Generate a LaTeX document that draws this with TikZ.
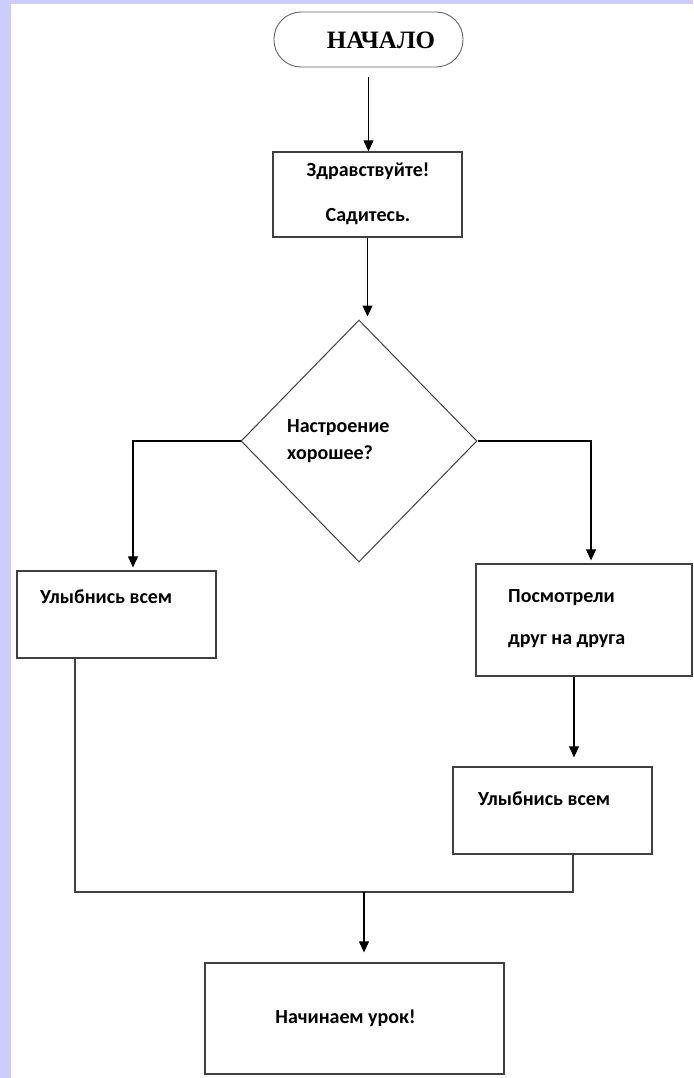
\documentclass[tikz,border=0pt]{standalone}
\usepackage{fontspec}
\newfontfamily\startfont{Liberation Serif}
\newfontfamily\boxfont{Carlito}
\usetikzlibrary{arrows.meta,shapes.geometric,calc}
\definecolor{lav}{HTML}{CCCCFF}
\definecolor{edge}{HTML}{404040}
\begin{document}
\begin{tikzpicture}[x=1pt,y=-1pt,>={Triangle[width=10pt,length=11pt]},font=\boxfont\bfseries\fontsize{20}{24}\selectfont,
		blk/.style={draw=edge,line width=1.3pt,inner sep=0pt},
		term/.style={draw=edge!80,line width=0.9pt,minimum width=189pt,minimum height=55pt,rounded corners=27pt,inner sep=0pt},
		dia/.style={draw=edge,line width=1pt,diamond,minimum width=236pt,minimum height=242pt,inner sep=0pt},
		txt/.style={inner sep=0pt,anchor=base west},
		arr/.style={->,line width=1.1pt,black},
		wire/.style={line width=1.3pt,edge}]
			\useasboundingbox (0,0) rectangle (693,1078);
			\fill[white](0,0) rectangle (693,1078);
			\fill[lav](0,0) rectangle (11,1078);
			\fill[lav](0,0) rectangle (693,4);
			\node[term] (start) at (368.5,39.5) {};
			\node[inner sep=0pt,font=\startfont\bfseries\fontsize{25}{28}\selectfont] (starttxt) at (381,40) {НАЧАЛО};
			\node[blk,minimum width=189pt,minimum height=85pt] (hello) at (367.5,194.5) {};
			\node[inner sep=0pt,anchor=base] (hello1) at (368,177) {Здравствуйте!};
			\node[inner sep=0pt,anchor=base] (hello2) at (368,222) {Садитесь.};
			\node[dia] (mood) at (359,441) {};
			\node[txt] (mood1) at (287,432) {Настроение};
			\node[txt] (mood2) at (287,459) {хорошее?};
			\node[blk,minimum width=199pt,minimum height=87pt] (smileL) at (116.5,614.5) {};
			\node[txt] (smileLtxt) at (40,603) {Улыбнись всем};
			\node[blk,minimum width=216pt,minimum height=112pt] (look) at (584,620) {};
			\node[txt] (look1) at (508,602) {Посмотрели};
			\node[txt] (look2) at (508,644) {друг на друга};
			\node[blk,minimum width=199pt,minimum height=87pt] (smileR) at (552.5,810.5) {};
			\node[txt] (smileRtxt) at (478,805) {Улыбнись всем};
			\node[blk,minimum width=299pt,minimum height=111pt] (lesson) at (354.5,1018.5) {};
			\node[inner sep=0pt,anchor=base] (lessontxt) at (345.5,1023) {Начинаем урок!};
			\coordinate (s0) at ($(start.south)+(0,10)$);
			\coordinate (join) at (364,892);
			\draw[arr](s0)--(s0 |- hello.north);
			\draw[arr,shorten >=3pt](hello.south)--(hello.south |- mood.north);
			\draw[arr,shorten >=3pt](mood.west)-|([xshift=16.5pt]smileL.north);
			\draw[arr,shorten >=3pt](mood.east)-|([xshift=7pt]look.north);
			\draw[arr,shorten >=9pt]([xshift=-10pt]look.south)--([xshift=-10pt]look.south |- smileR.north);
			\draw[wire]([xshift=-41.5pt]smileL.south)|-(join);
			\draw[wire]([xshift=20.5pt]smileR.south)|-(join);
			\draw[arr,shorten >=10pt](join)--(join |- lesson.north);
		\end{tikzpicture}
\end{document}
